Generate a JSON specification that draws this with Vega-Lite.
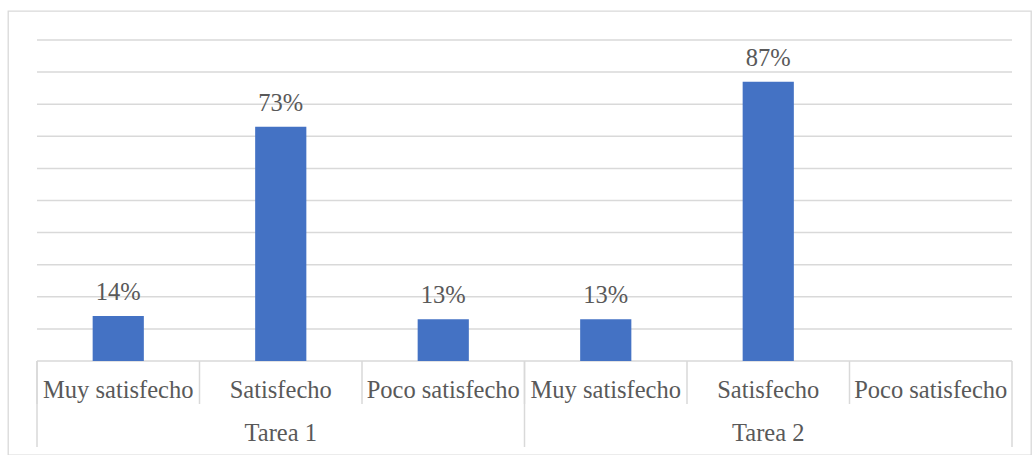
{
  "$schema": "https://vega.github.io/schema/vega-lite/v6.json",
  "width": 1023,
  "height": 444,
  "padding": {"left": 8, "top": 11, "right": 1, "bottom": 0},
  "background": "white",
  "config": {
    "view": {"stroke": "#d9d9d9", "strokeWidth": 1.3}
  },
  "datasets": {
    "respuestas": [
      {"Tarea": "Tarea 1", "Respuesta": "Muy satisfecho", "Clave": "T1-Muy", "Pct": 0.14},
      {"Tarea": "Tarea 1", "Respuesta": "Satisfecho", "Clave": "T1-Sat", "Pct": 0.73},
      {"Tarea": "Tarea 1", "Respuesta": "Poco satisfecho", "Clave": "T1-Poco", "Pct": 0.13},
      {"Tarea": "Tarea 2", "Respuesta": "Muy satisfecho", "Clave": "T2-Muy", "Pct": 0.13},
      {"Tarea": "Tarea 2", "Respuesta": "Satisfecho", "Clave": "T2-Sat", "Pct": 0.87},
      {"Tarea": "Tarea 2", "Respuesta": "Poco satisfecho", "Clave": "T2-Poco", "Pct": null}
    ],
    "rejilla": [
      {"nivel": 0}, {"nivel": 0.1}, {"nivel": 0.2}, {"nivel": 0.3}, {"nivel": 0.4},
      {"nivel": 0.5}, {"nivel": 0.6}, {"nivel": 0.7}, {"nivel": 0.8}, {"nivel": 0.9}, {"nivel": 1}
    ]
  },
  "layer": [
    {
      "data": {"name": "rejilla"},
      "mark": {"type": "rule", "color": "#d9d9d9", "strokeWidth": 1.5},
      "encoding": {
        "y": {"field": "nivel", "type": "quantitative", "axis": null,
              "scale": {"domain": [0, 1], "range": [350, 29], "nice": false, "zero": false}},
        "x": {"datum": 0, "type": "quantitative", "axis": null,
              "scale": {"domain": [0, 1], "range": [29, 1004], "nice": false}},
        "x2": {"datum": 1}
      }
    },
    {
      "data": {"name": "respuestas"},
      "encoding": {
        "x": {"field": "Clave", "type": "nominal", "axis": null,
              "scale": {"domain": ["T1-Muy", "T1-Sat", "T1-Poco", "T2-Muy", "T2-Sat", "T2-Poco"],
                        "range": [29, 1004], "paddingInner": 0, "paddingOuter": 0}}
      },
      "layer": [
        {
          "mark": {"type": "bar", "color": "#4472C4", "width": {"band": 0.315}},
          "encoding": {
            "y": {"field": "Pct", "type": "quantitative", "axis": null,
                  "scale": {"domain": [0, 1], "range": [350, 29], "nice": false, "zero": false}}
          }
        },
        {
          "transform": [{"filter": "datum.Pct != null"}],
          "mark": {"type": "text", "baseline": "alphabetic", "dy": -16,
                   "font": "Liberation Serif", "fontSize": 24.5, "color": "#595959"},
          "encoding": {
            "y": {"field": "Pct", "type": "quantitative"},
            "text": {"field": "Pct", "type": "quantitative", "format": ".0%"}
          }
        },
        {
          "mark": {"type": "rule", "color": "#d9d9d9", "strokeWidth": 1.5},
          "encoding": {
            "x": {"field": "Clave", "type": "nominal", "bandPosition": 0},
            "y": {"datum": 0},
            "y2": {"datum": -0.134}
          }
        },
        {
          "transform": [{"filter": "datum.Respuesta == 'Muy satisfecho'"}],
          "mark": {"type": "rule", "color": "#d9d9d9", "strokeWidth": 1.5},
          "encoding": {
            "x": {"field": "Clave", "type": "nominal", "bandPosition": 0},
            "y": {"datum": 0},
            "y2": {"datum": -0.268}
          }
        },
        {
          "transform": [{"filter": "datum.Clave == 'T2-Poco'"}],
          "mark": {"type": "rule", "color": "#d9d9d9", "strokeWidth": 1.5},
          "encoding": {
            "x": {"field": "Clave", "type": "nominal", "bandPosition": 1},
            "y": {"datum": 0},
            "y2": {"datum": -0.268}
          }
        },
        {
          "mark": {"type": "text", "baseline": "alphabetic",
                   "font": "Liberation Serif", "fontSize": 24.5, "color": "#595959"},
          "encoding": {
            "y": {"datum": -0.1153},
            "text": {"field": "Respuesta", "type": "nominal"}
          }
        },
        {
          "transform": [{"filter": "datum.Respuesta == 'Satisfecho'"}],
          "mark": {"type": "text", "baseline": "alphabetic",
                   "font": "Liberation Serif", "fontSize": 24.5, "color": "#595959"},
          "encoding": {
            "y": {"datum": -0.2492},
            "text": {"field": "Tarea", "type": "nominal"}
          }
        }
      ]
    }
  ],
  "resolve": {"scale": {"x": "independent"}}
}
